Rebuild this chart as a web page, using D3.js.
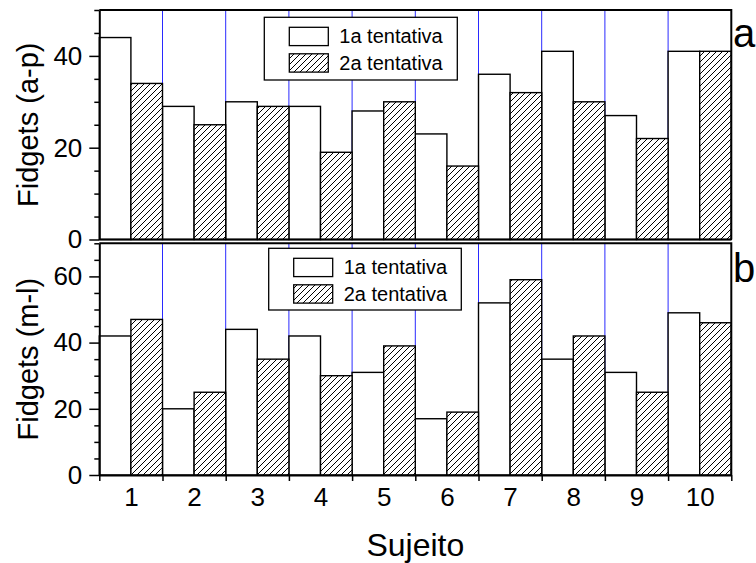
<!DOCTYPE html>
<html>
<head>
<meta charset="utf-8">
<script src="https://cdn.jsdelivr.net/npm/d3@7"></script>
<style>
  html, body { margin: 0; padding: 0; background: #fff; }
  svg { display: block; font-family: "Liberation Sans", Arial, sans-serif; }
</style>
</head>
<body>
<svg id="chart" width="756" height="563"></svg>
<script>
// Subjects (x categories)
const subjects = [1, 2, 3, 4, 5, 6, 7, 8, 9, 10];
const seriesNames = ["1a tentativa", "2a tentativa"];

// Panel a: Fidgets (a-p)
const fidgetsAP_first  = [44, 29, 30, 29, 28, 23, 36, 41, 27, 41];
const fidgetsAP_second = [34, 25, 29, 19, 30, 16, 32, 30, 22, 41];

// Panel b: Fidgets (m-l)
const fidgetsML_first  = [42, 20, 44, 42, 31, 17, 52, 35, 31, 49];
const fidgetsML_second = [47, 25, 35, 30, 39, 19, 59, 42, 25, 46];

// Axis ticks
const ticksAP = [0, 20, 40];
const ticksML = [0, 20, 40, 60];

const FONT = "'Liberation Sans', Arial, sans-serif";
const svg = d3.select("#chart");
const left = 99.3, right = 731.3;

const x = d3.scaleLinear().domain([0.5, 10.5]).range([left, right]);

// Hatch pattern for the second attempt
const defs = svg.append("defs");
const pat = defs.append("pattern")
  .attr("id", "hatch")
  .attr("patternUnits", "userSpaceOnUse")
  .attr("width", 6).attr("height", 6);
pat.append("rect").attr("width", 6).attr("height", 6).attr("fill", "#fff");
pat.append("path")
  .attr("d", "M-1,1 L1,-1 M0,6 L6,0 M5,7 L7,5")
  .attr("stroke", "#000").attr("stroke-width", 1);

const panels = [
  { first: fidgetsAP_first, second: fidgetsAP_second, max: 50, ticks: ticksAP,
    top: 10, bottom: 239.5, title: "Fidgets (a-p)", tag: "a", tagY: 47,
    legend: { x: 264.3, y: 17.3, w: 193, h: 62.7 }, showX: false },
  { first: fidgetsML_first, second: fidgetsML_second, max: 70, ticks: ticksML,
    top: 243.3, bottom: 475, title: "Fidgets (m-l)", tag: "b", tagY: 281.5,
    legend: { x: 268.7, y: 248.3, w: 192.6, h: 61.7 }, showX: true }
];

panels.forEach(p => {
  const y = d3.scaleLinear().domain([0, p.max]).range([p.bottom, p.top]);
  const g = svg.append("g");

  // blue separators between subjects
  g.append("g").selectAll("line")
    .data(subjects.slice(0, -1).map(s => s + 0.5))
    .join("line")
    .attr("x1", d => x(d)).attr("x2", d => x(d))
    .attr("y1", y(p.max)).attr("y2", y(0))
    .attr("stroke", "#2a2aff").attr("stroke-width", 1);

  // bars: first attempt (open) and second attempt (hatched)
  g.append("g").selectAll("rect")
    .data(subjects)
    .join("rect")
    .attr("x", (d) => x(d - 0.5))
    .attr("width", (d) => x(d) - x(d - 0.5))
    .attr("y", (d, i) => y(p.first[i]))
    .attr("height", (d, i) => y(0) - y(p.first[i]))
    .attr("fill", "#fff").attr("stroke", "#000").attr("stroke-width", 1.4);

  g.append("g").selectAll("rect")
    .data(subjects)
    .join("rect")
    .attr("x", (d) => x(d))
    .attr("width", (d) => x(d + 0.5) - x(d))
    .attr("y", (d, i) => y(p.second[i]))
    .attr("height", (d, i) => y(0) - y(p.second[i]))
    .attr("fill", "url(#hatch)").attr("stroke", "#000").attr("stroke-width", 1.4);

  // frame (top and right)
  g.append("path")
    .attr("d", `M${left},${y(p.max)} H${right} V${y(0)}`)
    .attr("fill", "none").attr("stroke", "#000").attr("stroke-width", 2);

  // y axis: minor ticks
  const minor = d3.range(0, p.max + 0.1, 5).filter(v => !p.ticks.includes(v));
  g.append("g")
    .attr("transform", `translate(${left},0)`)
    .call(d3.axisLeft(y).tickValues(minor).tickSize(5).tickFormat(""))
    .call(a => a.select(".domain").remove())
    .selectAll("line").attr("stroke-width", 1.5);

  // y axis: major ticks with labels
  const ya = g.append("g")
    .attr("transform", `translate(${left},0)`)
    .call(d3.axisLeft(y).tickValues(p.ticks).tickSize(10).tickPadding(7).tickSizeOuter(0));
  ya.select(".domain").attr("stroke-width", 2);
  ya.selectAll("line").attr("stroke-width", 1.5);
  ya.selectAll("text").attr("font-size", 26).attr("fill", "#000")
    .attr("font-family", FONT);

  // x axis line
  if (p.showX) {
    const xb = g.append("g")
      .attr("transform", `translate(0,${y(0)})`)
      .call(d3.axisBottom(x).tickValues(subjects.map(s => s - 0.5).concat([10.5]))
        .tickSize(6).tickFormat("").tickSizeOuter(0));
    xb.select(".domain").attr("stroke-width", 2);
    xb.selectAll("line").attr("stroke-width", 1.5);

    const xl = g.append("g")
      .attr("transform", `translate(0,${y(0)})`)
      .call(d3.axisBottom(x).tickValues(subjects).tickSize(0).tickPadding(13).tickFormat(d3.format("d")));
    xl.select(".domain").remove();
    xl.selectAll("text").attr("font-size", 26).attr("fill", "#000")
      .attr("font-family", FONT);
  } else {
    g.append("line")
      .attr("x1", left).attr("x2", right)
      .attr("y1", y(0)).attr("y2", y(0))
      .attr("stroke", "#000").attr("stroke-width", 2);
  }

  // y title
  g.append("text")
    .attr("transform", `translate(28,${(p.top + p.bottom) / 2}) rotate(-90)`)
    .attr("text-anchor", "middle").attr("dominant-baseline", "central")
    .attr("font-size", 29).text(p.title);

  // panel tag
  g.append("text")
    .attr("x", 733).attr("y", p.tagY)
    .attr("font-size", 40).text(p.tag);

  // legend
  const L = p.legend;
  const lg = g.append("g");
  lg.append("rect").attr("x", L.x).attr("y", L.y).attr("width", L.w).attr("height", L.h)
    .attr("fill", "#fff").attr("stroke", "#000").attr("stroke-width", 1.3);
  seriesNames.forEach((name, i) => {
    const sy = L.y + 10 + i * 26.5;
    lg.append("rect")
      .attr("x", L.x + 25).attr("y", sy).attr("width", 39).attr("height", 18.3)
      .attr("fill", i === 0 ? "#fff" : "url(#hatch)")
      .attr("stroke", "#000").attr("stroke-width", 1.3);
    lg.append("text")
      .attr("x", L.x + 75).attr("y", sy + 16)
      .attr("font-size", 20).text(name);
  });
});

// x title
svg.append("text")
  .attr("x", (left + right) / 2).attr("y", 556)
  .attr("text-anchor", "middle").attr("font-size", 32).text("Sujeito");
</script>
</body>
</html>
